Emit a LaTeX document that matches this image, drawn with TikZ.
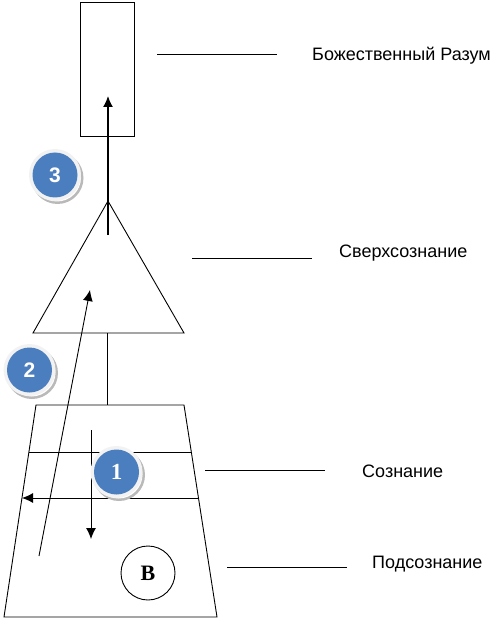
\documentclass[tikz,border=0pt]{standalone}
\usepackage{fontspec}
\usetikzlibrary{arrows.meta}
\setmainfont{Liberation Sans}
\newfontfamily\serifb{Liberation Serif}
\begin{document}
\begin{tikzpicture}[x=1pt,y=-1pt,
  ln/.style={line width=0.9pt,black},
  lbl/.style={font=\fontsize{18}{20}\selectfont,anchor=west,inner sep=0pt},
  arr/.style={ln,-{Latex[length=11pt,width=10pt]}},
  badge/.style={circle,fill=badgeblue,text=white,minimum size=45pt,inner sep=0pt,font=\bfseries\fontsize{21}{21}\selectfont}
]
\definecolor{badgeblue}{RGB}{74,126,190}
\useasboundingbox (0,0) rectangle (498,620);
% rectangle top
\node[draw,ln,minimum width=54pt,minimum height=134pt,inner sep=0pt] (rect) at (107,69) {};
% triangle
\coordinate (tA) at (108,201);
\coordinate (tL) at (33,333);
\coordinate (tR) at (184,333);
\draw[ln] (tA) -- (tL) -- (tR) -- cycle;
% trapezoid
\coordinate (zTL) at (36,405);
\coordinate (zTR) at (184,405);
\coordinate (zBR) at (217,617);
\coordinate (zBL) at (4,617);
\draw[ln] (zTL) -- (zTR) -- (zBR) -- (zBL) -- cycle;
% connector triangle -> trapezoid
\coordinate (c1) at (107,333);
\coordinate (c2) at (107,405);
\draw[ln] (c1) -- (c2);
% arrow 3 up into rect
\coordinate (a3s) at (108,235);
\coordinate (a3e) at (108,96);
\draw[arr,line width=1.4pt] (a3s) -- (a3e);
% horizontal line in trapezoid
\coordinate (h1l) at (29,452);
\coordinate (h1r) at (191,452);
\draw[ln] (h1l) -- (h1r);
% left arrow
\coordinate (h2r) at (199,498);
\coordinate (h2l) at (22,498);
\draw[arr] (h2r) -- (h2l);
% down arrow
\coordinate (d1) at (91,430);
\coordinate (d2) at (91,539);
\draw[arr] (d1) -- (d2);
% diagonal arrow 2
\coordinate (g1) at (39,556);
\coordinate (g2) at (90,290);
\draw[arr] (g1) -- (g2);
% circle B
\node[circle,draw,ln,minimum size=54pt,inner sep=0pt,font=\serifb\bfseries\fontsize{22}{22}\selectfont] (B) at (148,573) {B};
% badges
\foreach \px/\py in {116.5/472, 55/175, 29.5/370}{
  \fill[gray!55] (\px+2.5,\py+3) circle (26pt);
  \fill[white] (\px+2,\py+2.5) circle (24pt);
  \fill[gray!10] (\px,\py) circle (26pt);
}
\node[badge,font=\serifb\bfseries\fontsize{23}{23}\selectfont] (n1) at (116.5,472) {1};
\node[badge] (n3) at (55,175) {3};
\node[badge] (n2) at (29.5,370) {2};
% label lines and texts
\coordinate (l1a) at (157,54); \coordinate (l1b) at (277,54);
\draw[ln] (l1a) -- (l1b);
\node[lbl] (t1) at (312,56) {Божественный Разум};
\coordinate (l2a) at (192,258); \coordinate (l2b) at (312,258);
\draw[ln] (l2a) -- (l2b);
\node[lbl] (t2) at (339,253) {Сверхсознание};
\coordinate (l3a) at (205,470); \coordinate (l3b) at (325,470);
\draw[ln] (l3a) -- (l3b);
\node[lbl] (t3) at (362,471) {Сознание};
\coordinate (l4a) at (227,567); \coordinate (l4b) at (347,567);
\draw[ln] (l4a) -- (l4b);
\node[lbl] (t4) at (372,564) {Подсознание};
\end{tikzpicture}
\end{document}
